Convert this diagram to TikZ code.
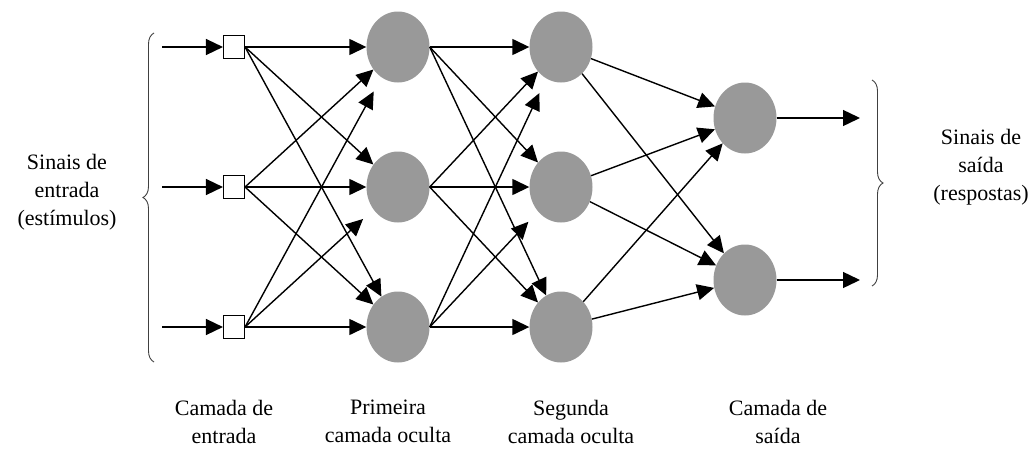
\documentclass[tikz,border=0pt]{standalone}
\usepackage{fontspec}
\setmainfont{Liberation Serif}
\usetikzlibrary{arrows.meta,shapes.geometric,decorations.pathreplacing}
\definecolor{neurongray}{RGB}{153,153,153}

\begin{document}
\begin{tikzpicture}[x=1pt,y=-1pt,
    inbox/.style={draw,line width=1.1pt,fill=white,minimum width=21pt,minimum height=23pt,inner sep=0pt},
    neuron/.style={ellipse,fill=neurongray,minimum width=63pt,minimum height=71pt,inner sep=0pt},
    link/.style={line width=1.4pt,-{Triangle[length=17pt,width=16pt]}},
    bracket/.style={decorate,decoration={brace,amplitude=11pt},line width=0.9pt,black!75},
    lbl/.style={font=\fontsize{22}{28}\selectfont,align=center,inner sep=0pt}]
    \useasboundingbox (0,0) rectangle (1030,450);

    % Draw the layers
    \foreach \n/\y in {1/47,2/187,3/327} {
        \coordinate (s\n) at (162,\y);
        \node[inbox] (i\n) at (234,\y) {};
        \node[neuron] (h\n) at (398,\y) {};
        \node[neuron] (g\n) at (561,\y) {};
    }
    \node[neuron] (o1) at (745,118) {};
    \node[neuron] (o2) at (745,280) {};
    \coordinate (r1) at (860,118);
    \coordinate (r2) at (860,280);

    % Draw the connections
    \foreach \n in {1,2,3}
        \draw[link] (s\n) -- (i\n);
    \foreach \a/\b/\s in {1/1/0,1/2/0,1/3/0,2/1/0,2/2/0,2/3/0,3/1/16,3/2/14,3/3/0} {
        \draw[link,shorten >=\s pt] (i\a.east) -- (h\b);
        \draw[link,shorten >=\s pt] (h\a.east) -- (g\b);
    }
    \foreach \a in {1,2,3}
        \foreach \b in {1,2}
            \draw[link] (g\a) -- (o\b);
    \foreach \n in {1,2}
        \draw[link] (o\n.east) -- (r\n);

    % Draw the braces
    \draw[bracket] (154,362) -- (154,33);
    \draw[bracket] (872,80) -- (872,286);

    % Label the signals and layers
    \node[lbl] (inlbl) at (67,192) {Sinais de\\entrada\\(estímulos)};
    \node[lbl] (outlbl) at (981,167) {Sinais de\\saída\\(respostas)};
    \node[lbl,anchor=north] (lin) at (224,400) {Camada de\\entrada};
    \node[lbl,anchor=north] (lh1) at (388,400) {Primeira\\camada oculta};
    \node[lbl,anchor=north] (lh2) at (571,400) {Segunda\\camada oculta};
    \node[lbl,anchor=north] (lout) at (778,400) {Camada de\\saída};

\end{tikzpicture}
\end{document}
